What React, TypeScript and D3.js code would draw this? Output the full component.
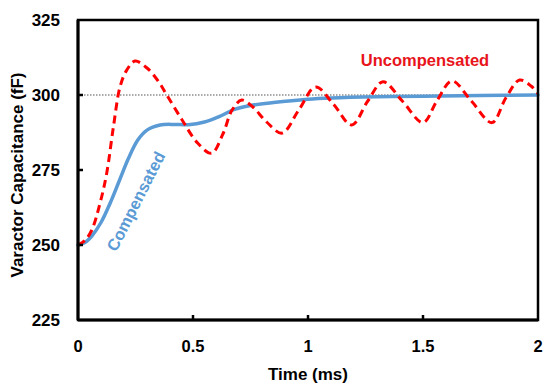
import React from "react";
import * as d3 from "d3";

// Time axis (ms) and tick labels
const xTicks = [0, 0.5, 1, 1.5, 2];
const yTicks = [225, 250, 275, 300, 325];
const targetValue = 300;

// Uncompensated response: time (ms) and capacitance (fF)
const uncompTime = [0, 0.03, 0.06, 0.096, 0.125, 0.154, 0.183, 0.212, 0.248, 0.3, 0.35, 0.386, 0.45, 0.52, 0.581, 0.63, 0.67, 0.712, 0.76, 0.82, 0.887, 0.96, 1.033, 1.11, 1.19, 1.26, 1.326, 1.41, 1.5, 1.56, 1.626, 1.71, 1.8, 1.86, 1.92, 1.97, 2.0];
const uncompValue = [250, 251.5, 255, 264, 274, 289.4, 302.8, 308.3, 311.3, 309, 304.5, 300, 292, 284, 280.6, 287, 295, 298.3, 296, 291, 287.3, 295, 302.7, 297, 290, 298, 304.4, 298, 290.8, 298, 304.7, 298, 290.8, 299, 305, 303, 300.5];

// Compensated response: time (ms) and capacitance (fF)
const compTime = [0, 0.03, 0.06, 0.1, 0.14, 0.18, 0.22, 0.26, 0.3, 0.357, 0.42, 0.48, 0.55, 0.62, 0.68, 0.75, 0.85, 1.0, 1.1, 1.3, 1.5, 1.75, 2.0];
const compValue = [250, 250.8, 253, 257.5, 264, 271.5, 279, 285, 288.3, 290, 290.2, 290.1, 291, 293, 295.2, 296.5, 297.5, 298.6, 299, 299.4, 299.6, 299.8, 300];

const W = 543;
const H = 391;
const M = { left: 78, right: 5, top: 20, bottom: 71 };
const FONT = "'Liberation Sans', Arial, sans-serif";

export default function App() {
  const x = d3.scaleLinear().domain([0, 2]).range([M.left, W - M.right]);
  const y = d3.scaleLinear().domain([225, 325]).range([H - M.bottom, M.top]);

  const line = d3
    .line<[number, number]>()
    .x((d) => x(d[0]))
    .y((d) => y(d[1]))
    .curve(d3.curveCatmullRom.alpha(0.5));

  const uncomp = uncompTime.map((t, i) => [t, uncompValue[i]] as [number, number]);
  const comp = compTime.map((t, i) => [t, compValue[i]] as [number, number]);

  const x0 = x(0);
  const x1 = x(2);
  const yTop = y(325);
  const yBot = y(225);

  return (
    <svg
      width={W}
      height={H}
      style={{ position: "fixed", left: 0, top: 0, background: "#fff" }}
      fontFamily={FONT}
    >
      {/* reference level */}
      <line
        x1={x0}
        x2={x1}
        y1={y(targetValue)}
        y2={y(targetValue)}
        stroke="#555"
        strokeWidth={1}
        strokeDasharray="1.5,1.5"
      />

      {/* series */}
      <path d={line(comp) || ""} fill="none" stroke="#5B9BD5" strokeWidth={3.5} strokeLinecap="round" />
      <path d={line(uncomp) || ""} fill="none" stroke="#FF0000" strokeWidth={3} strokeDasharray="8,5" />

      {/* frame */}
      <rect x={x0} y={yTop} width={x1 - x0} height={yBot - yTop} fill="none" stroke="#000" strokeWidth={2.5} />
      <line x1={x0} x2={x0} y1={yTop} y2={yBot} stroke="#000" strokeWidth={3} />
      <line x1={x0} x2={x1} y1={yBot} y2={yBot} stroke="#000" strokeWidth={3} />

      {/* ticks */}
      {yTicks.slice(1, -1).map((v) => (
        <line key={"yt" + v} x1={x0} x2={x0 + 5} y1={y(v)} y2={y(v)} stroke="#000" strokeWidth={2.5} />
      ))}
      {xTicks.slice(1, -1).map((v) => (
        <line key={"xt" + v} x1={x(v)} x2={x(v)} y1={yBot} y2={yBot - 5} stroke="#000" strokeWidth={2.5} />
      ))}

      {/* tick labels */}
      {yTicks.map((v) => (
        <text key={"yl" + v} x={x0 - 18} y={y(v)} dy="0.35em" textAnchor="end" fontSize={17} fontWeight="bold" fill="#000">
          {v}
        </text>
      ))}
      {xTicks.map((v) => (
        <text key={"xl" + v} x={x(v)} y={yBot + 32} textAnchor="middle" fontSize={16.5} fontWeight="bold" fill="#000">
          {v}
        </text>
      ))}

      {/* axis titles */}
      <text x={(x0 + x1) / 2} y={380} textAnchor="middle" fontSize={17} fontWeight="bold" fill="#000">
        Time (ms)
      </text>
      <text
        transform="translate(23,175) rotate(-90)"
        textAnchor="middle"
        fontSize={17}
        fontWeight="bold"
        fill="#000"
      >
        Varactor Capacitance (fF)
      </text>

      {/* series labels */}
      <text x={425} y={66} textAnchor="middle" fontSize={16.5} fontWeight="bold" fill="#E8141B">
        Uncompensated
      </text>
      <text
        transform="translate(141,204) rotate(-63)"
        textAnchor="middle"
        fontSize={16.5}
        fontWeight="bold"
        fill="#5B9BD5"
      >
        Compensated
      </text>
    </svg>
  );
}
